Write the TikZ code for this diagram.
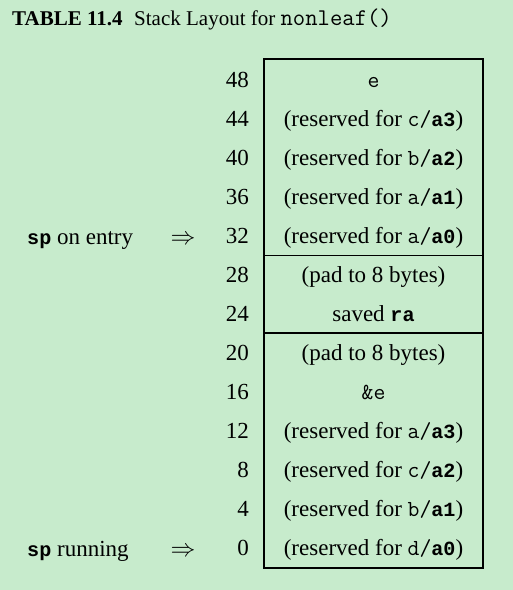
\documentclass[tikz,border=0pt]{standalone}
\usepackage{fontspec}
\setmainfont{Liberation Serif}
\setmonofont{Latin Modern Mono}[BoldFont={Liberation Mono Bold}, BoldFeatures={Scale=0.875}]
\usepackage{tikz}
\definecolor{bggreen}{RGB}{199,235,204}

\newcommand{\rsv}[2]{(reserved for \texttt{#1/\textbf{#2}})}

\tikzset{
    addr/.style = {anchor=base east, inner sep=0pt, font=\fontsize{23}{26}\selectfont},
    cell/.style = {anchor=base, inner sep=0pt, font=\fontsize{23}{26}\selectfont},
    splabel/.style = {anchor=base west, inner sep=0pt, font=\fontsize{23}{26}\selectfont},
    ptrarrow/.style = {anchor=base, inner sep=0pt, font=\fontsize{23}{26}\selectfont},
}

\begin{document}
\begin{tikzpicture}[x=1pt,y=-1pt]
    \fill [bggreen] (0,0) rectangle (513,590);
    \useasboundingbox (0,0) rectangle (513,590);
    % title
    \node [anchor=base west, inner sep=0pt, font=\fontsize{21}{24}\selectfont] (title) at (12,25)
        {\textbf{TABLE 11.4}\hspace{0.55em}Stack Layout for \texttt{\fontsize{24}{26}\selectfont nonleaf()}};
    % the rows of the stack frame
    \foreach \addr/\txt[
        count=\n,
        evaluate=\n as \y using 79+39.08*(\n-1)+8,
    ] in {48/{\texttt{e}},
          44/{\rsv{c}{a3}},
          40/{\rsv{b}{a2}},
          36/{\rsv{a}{a1}},
          32/{\rsv{a}{a0}},
          28/{(pad to 8 bytes)},
          24/{saved \texttt{\textbf{ra}}},
          20/{(pad to 8 bytes)},
          16/{\texttt{\&e}},
          12/{\rsv{a}{a3}},
          8/{\rsv{c}{a2}},
          4/{\rsv{b}{a1}},
          0/{\rsv{d}{a0}}}{
            \node [addr] (addr\n) at (249,\y) {\addr};
            \node [cell] (cell\n) at (373.5,\y) {\txt};
        }
    % frame and the two separators
    \draw [line width=1.5pt] (264,59) rectangle (483,568);
    \draw [line width=1.2pt] (264,255.5) -- (483,255.5);
    \draw [line width=1.2pt] (264,333) -- (483,333);
    % stack pointers
    \node [splabel] (entry) at (27,244) {\texttt{\textbf{sp}} on entry};
    \node [ptrarrow] (entryarrow) at (183,244) {$\Rightarrow$};
    \node [splabel] (running) at (27,556) {\texttt{\textbf{sp}} running};
    \node [ptrarrow] (runningarrow) at (183,556) {$\Rightarrow$};
\end{tikzpicture}
\end{document}
